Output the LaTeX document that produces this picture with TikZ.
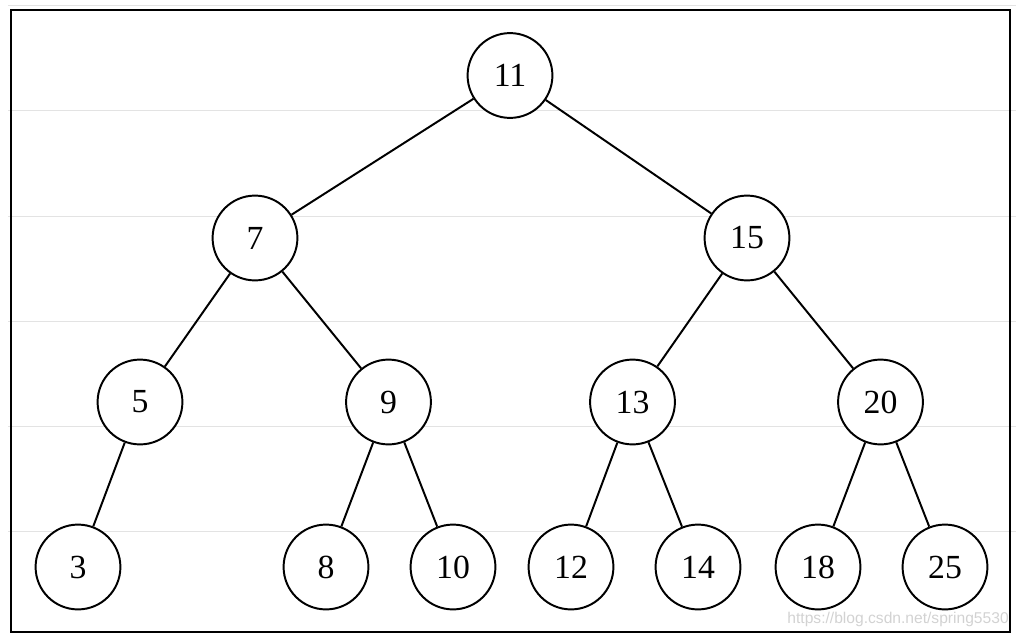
\documentclass[tikz,border=0pt]{standalone}
\usepackage{fontspec}
\setmainfont{Liberation Serif}
\newfontfamily\markfont{Liberation Sans}

\begin{document}
\begin{tikzpicture}[x=0.025cm,y=-0.025cm,
        key/.style={draw=black, circle, line width=1.4pt, fill=white, minimum size=2.12cm, inner sep=0pt, font=\fontsize{24}{28}\selectfont},
        link/.style={black, line width=1.4pt},
        rule/.style={gray!22, line width=0.7pt}]
        \useasboundingbox (0,0) rectangle (1020,638);
        \foreach \y in {5,110,216,321,426,531}
            \draw[rule](8,\y) -- (1016,\y);
        \draw[black, line width=1.9pt](11,10) rectangle (1010,632);
        \node[key] (n11) at (510,75.5){11};
        \node[key] (n7) at (255,238){7};
        \node[key] (n15) at (747,238){15};
        \node[key] (n5) at (140,402){5};
        \node[key] (n9) at (388.5,402){9};
        \node[key] (n13) at (632.5,402){13};
        \node[key] (n20) at (880.5,402){20};
        \node[key] (n3) at (78,567){3};
        \node[key] (n8) at (326,567){8};
        \node[key] (n10) at (453,567){10};
        \node[key] (n12) at (571,567){12};
        \node[key] (n14) at (698,567){14};
        \node[key] (n18) at (818,567){18};
        \node[key] (n25) at (945,567){25};
        \foreach \a/\b in {n11/n7,n11/n15,n7/n5,n7/n9,n15/n13,n15/n20,n5/n3,n9/n8,n9/n10,n13/n12,n13/n14,n20/n18,n20/n25}
            \draw[link](\a) -- (\b);
        \node[anchor=base east, gray!35, font=\markfont\fontsize{11.1}{13}\selectfont, inner sep=0pt] (mark) at (1009,623){https://blog.csdn.net/spring5530};
    \end{tikzpicture}
\end{document}
